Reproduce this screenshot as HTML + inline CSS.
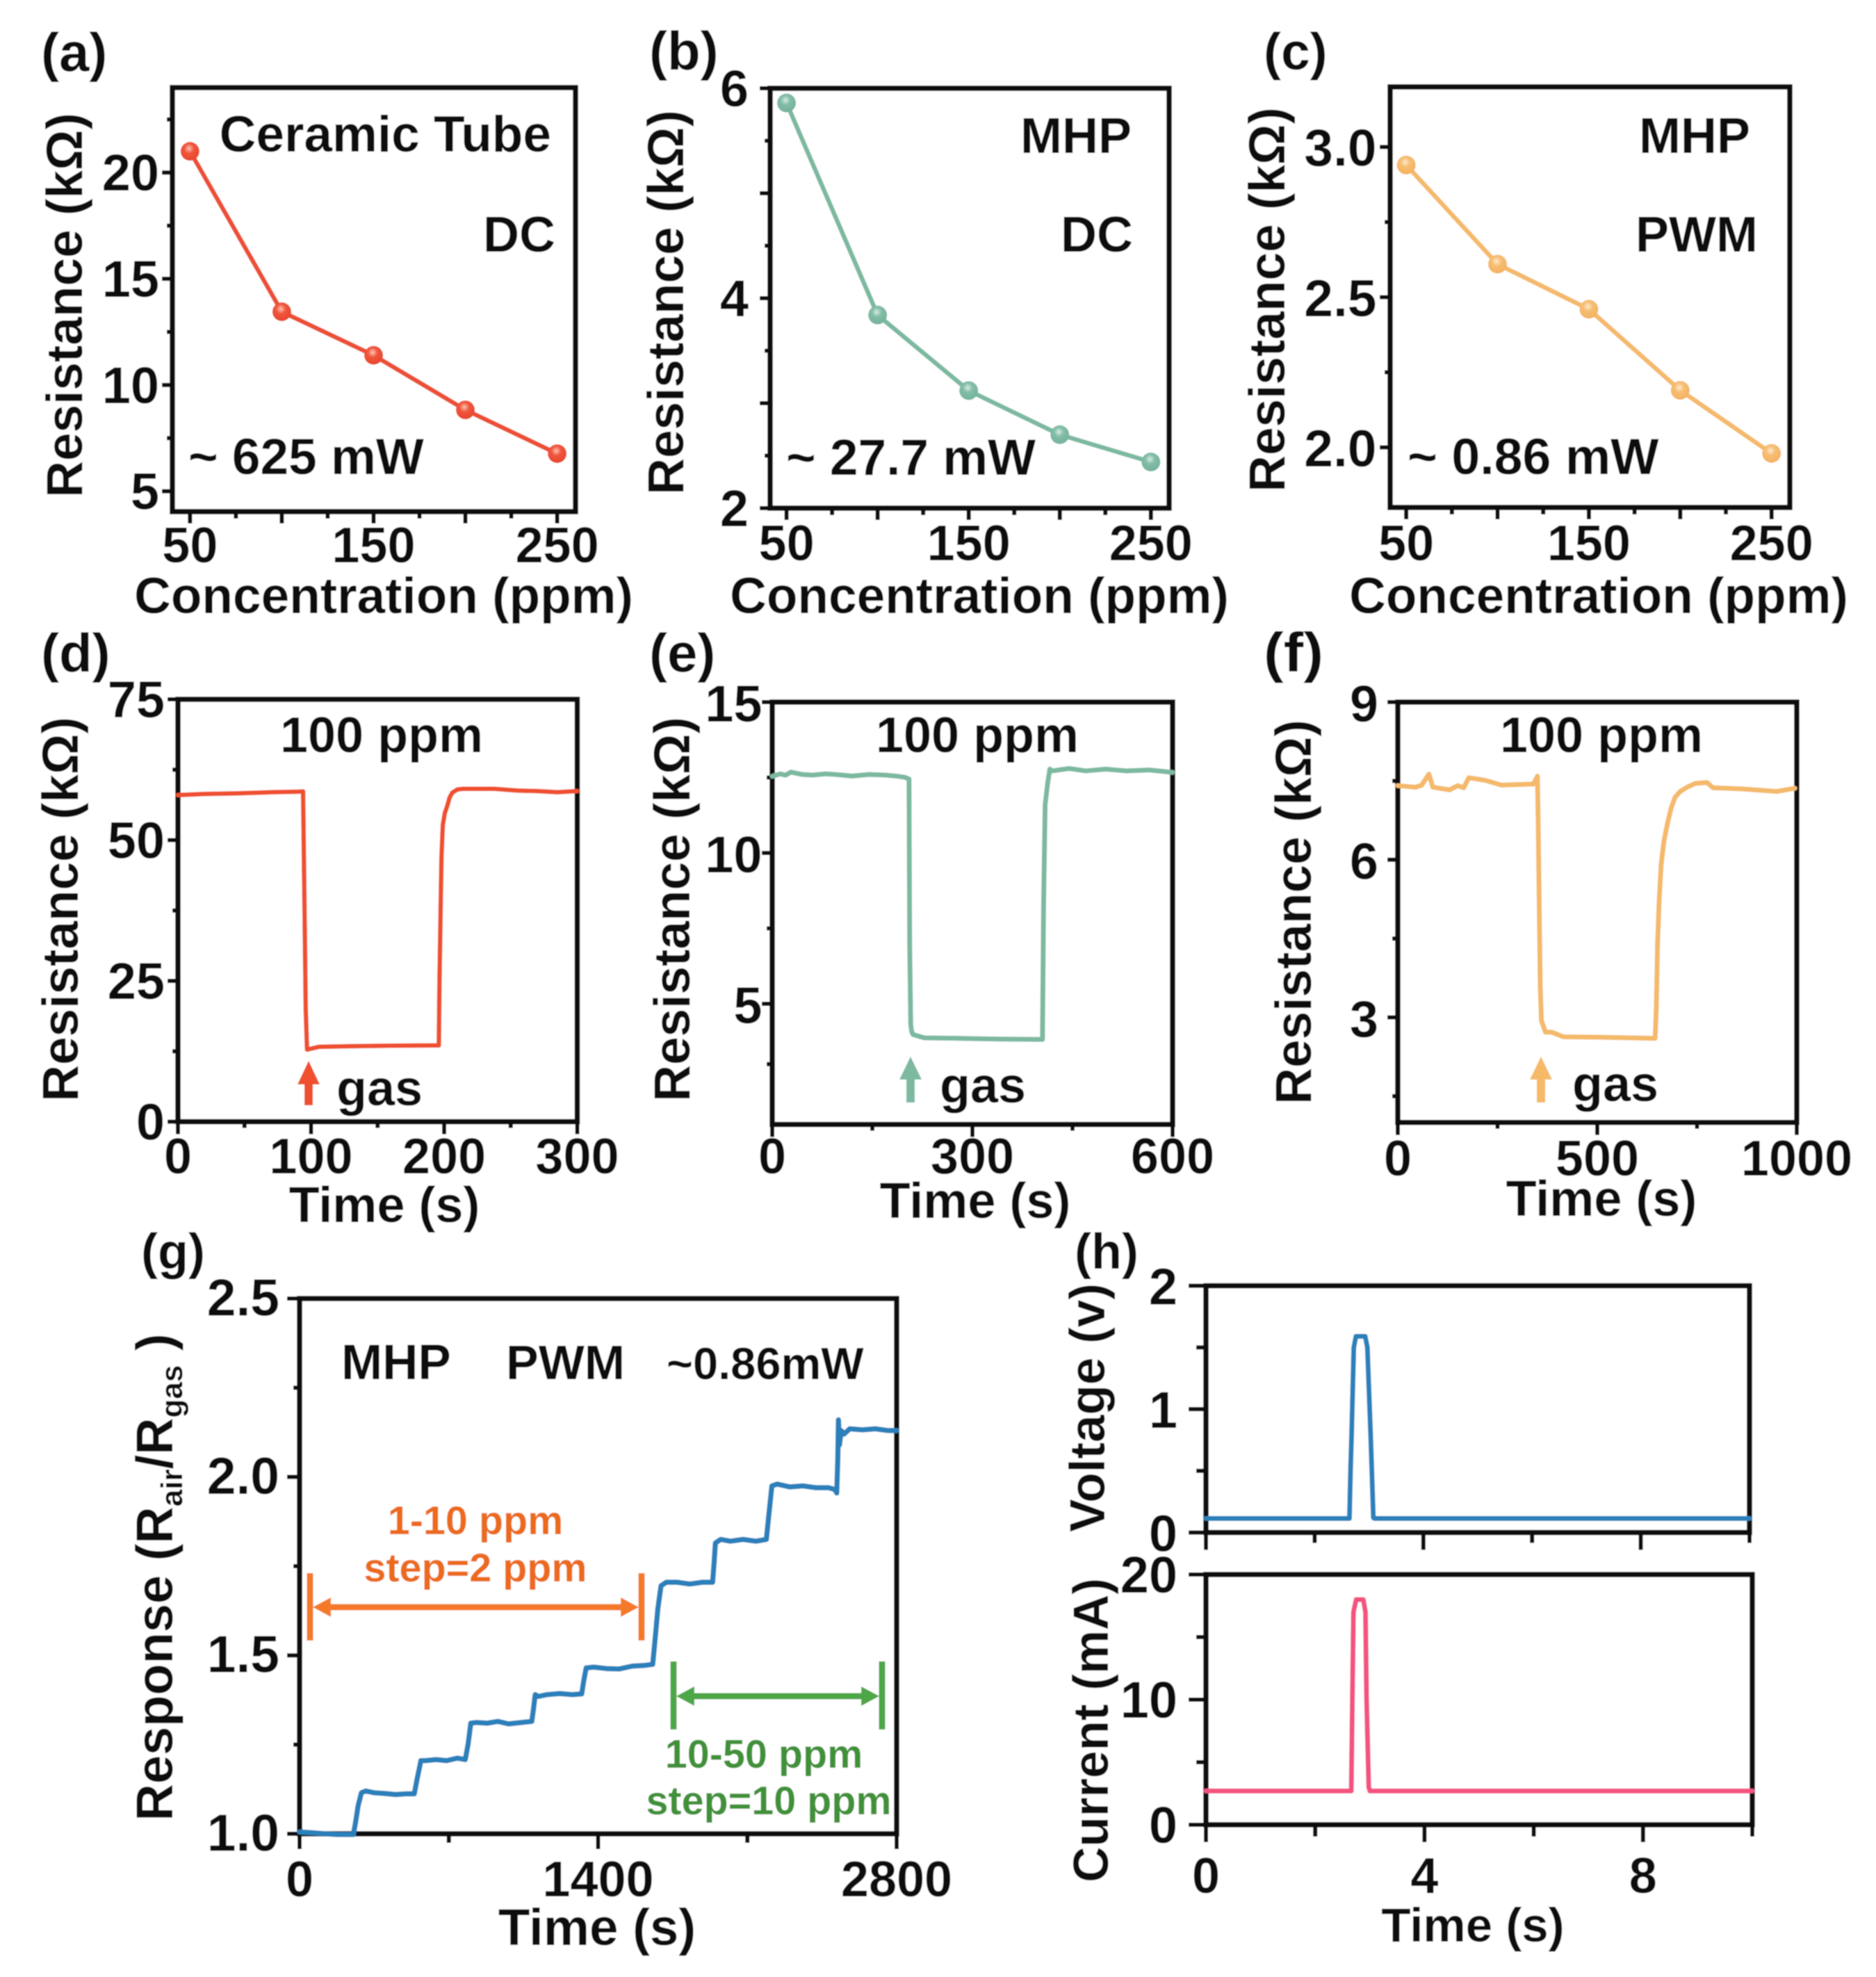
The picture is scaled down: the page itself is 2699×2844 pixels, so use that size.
<!DOCTYPE html>
<html lang="en">
<head>
<meta charset="utf-8">
<title>Gas sensor characterization panels</title>
<style>
html,body{margin:0;padding:0;background:#fff;width:2699px;height:2844px;overflow:hidden}
svg{display:block}
text{font-family:"Liberation Sans",Arial,sans-serif;font-weight:bold;fill:#0c0c0c}
</style>
</head>
<body>
<svg id="figure" xmlns="http://www.w3.org/2000/svg" width="2699" height="2844" viewBox="0 0 2699 2844">
<defs>
<filter id="soft" x="0" y="0" width="100%" height="100%"><feGaussianBlur stdDeviation="0.9"/></filter>
<radialGradient id="ball-red" cx="0.45" cy="0.35" r="0.65"><stop offset="0" stop-color="#ffc4b4"/><stop offset="0.4" stop-color="#f0553c"/><stop offset="1" stop-color="#e8452c"/></radialGradient>
<radialGradient id="ball-green" cx="0.45" cy="0.35" r="0.65"><stop offset="0" stop-color="#d5ece2"/><stop offset="0.4" stop-color="#82bca6"/><stop offset="1" stop-color="#74b39b"/></radialGradient>
<radialGradient id="ball-orange" cx="0.45" cy="0.35" r="0.65"><stop offset="0" stop-color="#fdeacc"/><stop offset="0.4" stop-color="#f6bd72"/><stop offset="1" stop-color="#f3b25f"/></radialGradient>
</defs>
<g id="root" filter="url(#soft)">
<rect x="0" y="0" width="2699" height="2844" fill="#fff"/>

<text x="59" y="102" font-size="78">(a)</text>
<text x="934" y="100" font-size="78">(b)</text>
<text x="1818" y="100" font-size="75">(c)</text>
<text x="59" y="966" font-size="78">(d)</text>
<text x="934" y="966" font-size="78">(e)</text>
<text x="1818" y="966" font-size="80" textLength="86" lengthAdjust="spacingAndGlyphs">(f)</text>
<text x="203" y="1825" font-size="72">(g)</text>
<text x="1546" y="1825" font-size="72">(h)</text>

<text transform="translate(118,439) rotate(-90)" text-anchor="middle" font-size="73">Resistance (kΩ)</text>
<text transform="translate(983,435) rotate(-90)" text-anchor="middle" font-size="73">Resistance (kΩ)</text>
<text transform="translate(1848,431) rotate(-90)" text-anchor="middle" font-size="73">Resistance (kΩ)</text>
<text transform="translate(112,1308) rotate(-90)" text-anchor="middle" font-size="73">Resistance (kΩ)</text>
<text transform="translate(992,1308) rotate(-90)" text-anchor="middle" font-size="73">Resistance (kΩ)</text>
<text transform="translate(1886,1312) rotate(-90)" text-anchor="middle" font-size="73">Resistance (kΩ)</text>
<text transform="translate(248,2269) rotate(-90)" text-anchor="middle" font-size="74">Response (R<tspan font-size="44" dy="14">air</tspan><tspan dy="-14">/R</tspan><tspan font-size="44" dy="14">gas</tspan><tspan dy="-14"> )</tspan></text>
<text transform="translate(1589,2025) rotate(-90)" text-anchor="middle" font-size="71">Voltage (v)</text>
<text transform="translate(1594,2489) rotate(-90)" text-anchor="middle" font-size="71">Current (mA)</text>

<text x="552" y="882" text-anchor="middle" font-size="73">Concentration (ppm)</text>
<text x="1409" y="882" text-anchor="middle" font-size="73">Concentration (ppm)</text>
<text x="2300" y="882" text-anchor="middle" font-size="73">Concentration (ppm)</text>
<text x="553" y="1758" text-anchor="middle" font-size="72">Time (s)</text>
<text x="1403" y="1752" text-anchor="middle" font-size="72">Time (s)</text>
<text x="2304" y="1749" text-anchor="middle" font-size="72">Time (s)</text>
<text x="859" y="2798" text-anchor="middle" font-size="74.5">Time (s)</text>
<text x="2119" y="2793" text-anchor="middle" font-size="69">Time (s)</text>

<g id="marks"></g>

<text x="793" y="218" text-anchor="end" font-size="73">Ceramic Tube</text>
<text x="799" y="362" text-anchor="end" font-size="72">DC</text>
<text x="271" y="682" font-size="73">~ 625 mW</text>
<text x="1628" y="220" text-anchor="end" font-size="72">MHP</text>
<text x="1630" y="362" text-anchor="end" font-size="72">DC</text>
<text x="1131" y="683" font-size="73">~ 27.7 mW</text>
<text x="2518" y="220" text-anchor="end" font-size="72">MHP</text>
<text x="2529" y="362" text-anchor="end" font-size="72">PWM</text>
<text x="2025" y="682" font-size="73.5">~ 0.86 mW</text>

<text x="549" y="1082" text-anchor="middle" font-size="72">100 ppm</text>
<text x="1406" y="1082" text-anchor="middle" font-size="72">100 ppm</text>
<text x="2304" y="1082" text-anchor="middle" font-size="72">100 ppm</text>
<text x="484" y="1590" font-size="72">gas</text>
<text x="1352" y="1586" font-size="72">gas</text>
<text x="2262" y="1584" font-size="72">gas</text>
<polygon points="444,1526 460,1560 450,1560 450,1590 438,1590 438,1560 428,1560" fill="#ef4f2f"/>
<polygon points="1310,1520 1326,1553 1316,1553 1316,1586 1304,1586 1304,1553 1294,1553" fill="#7cb9a0"/>
<polygon points="2217,1520 2233,1553 2223,1553 2223,1586 2211,1586 2211,1553 2201,1553" fill="#f6b968"/>

<text x="491" y="1984" font-size="71">MHP</text>
<text x="728" y="1984" font-size="70">PWM</text>
<text x="959" y="1984" font-size="65">~0.86mW</text>

<text x="684" y="2207" text-anchor="middle" font-size="57.5" style="fill:#ec6a1e">1-10 ppm</text>
<text x="684" y="2275" text-anchor="middle" font-size="57.5" style="fill:#ec6a1e">step=2 ppm</text>
<g stroke="#f47a2a" fill="#f47a2a">
<line x1="446" y1="2263" x2="446" y2="2360" stroke-width="9"/>
<line x1="923" y1="2263" x2="923" y2="2360" stroke-width="9"/>
<line x1="468" y1="2312" x2="901" y2="2312" stroke-width="9"/>
<polygon points="450,2312 476,2298 476,2326" stroke="none"/>
<polygon points="919,2312 893,2298 893,2326" stroke="none"/>
</g>
<text x="1099" y="2543" text-anchor="middle" font-size="57.5" style="fill:#3f9139">10-50 ppm</text>
<text x="1106" y="2610" text-anchor="middle" font-size="57.5" style="fill:#3f9139">step=10 ppm</text>
<g stroke="#4ea747" fill="#4ea747">
<line x1="969" y1="2390" x2="969" y2="2488" stroke-width="9"/>
<line x1="1269" y1="2390" x2="1269" y2="2488" stroke-width="9"/>
<line x1="990" y1="2440" x2="1248" y2="2440" stroke-width="9"/>
<polygon points="973,2440 999,2426 999,2454" stroke="none"/>
<polygon points="1265,2440 1239,2426 1239,2454" stroke="none"/>
</g>
</g>
</svg>
<script>
// Panel (a)
const aConcentration = [50, 100, 150, 200, 250];
const aResistance = [21.0, 13.45, 11.4, 8.83, 6.77];
const aXTicks = [50, 100, 150, 200, 250];
const aXMinor = [75, 125, 175, 225];
const aXLabels = [50, 150, 250];
const aYTicks = [5, 10, 15, 20];
const aYMinor = [7.5, 12.5, 17.5, 22.5];
// Panel (b)
const bConcentration = [50, 100, 150, 200, 250];
const bResistance = [5.86, 3.84, 3.12, 2.70, 2.44];
const bXTicks = [50, 100, 150, 200, 250];
const bXMinor = [75, 125, 175, 225];
const bXLabels = [50, 150, 250];
const bYTicks = [2, 3, 4, 5, 6];
const bYMinor = [2.5, 3.5, 4.5, 5.5];
const bYLabels = [2, 4, 6];
// Panel (c)
const cConcentration = [50, 100, 150, 200, 250];
const cResistance = [2.94, 2.61, 2.46, 2.19, 1.98];
const cXTicks = [50, 100, 150, 200, 250];
const cXMinor = [75, 125, 175, 225];
const cXLabels = [50, 150, 250];
const cYTicks = [2.0, 2.5, 3.0];
const cYMinor = [2.25, 2.75];
// Panel (d)
const dTime = [0, 20, 45, 70, 90, 94, 95, 96, 97, 106, 130, 160, 190, 196, 196.5, 197.4, 198, 199, 200.5, 202.5, 204, 206, 210, 214, 238, 255, 270, 285, 300];
const dResistance = [58.0, 58.2, 58.3, 58.5, 58.6, 58.65, 40, 20, 12.8, 13.3, 13.4, 13.5, 13.55, 13.55, 25, 38.5, 47, 52.7, 54.8, 56.2, 57.5, 58.4, 59, 59.1, 59.1, 58.8, 58.7, 58.5, 58.7];
const dXTicks = [0, 100, 200, 300];
const dXMinor = [50, 150, 250];
const dYTicks = [0, 25, 50, 75];
const dYMinor = [12.5, 37.5, 62.5];
// Panel (e)
const eTime = [0, 12, 20, 28, 45, 60, 80, 95, 120, 145, 170, 185, 198, 205, 206, 207.6, 209, 211, 228, 270, 340, 405, 406.7, 409, 412.7, 416, 420, 445, 470, 500, 530, 565, 600];
const eResistance = [12.54, 12.62, 12.58, 12.68, 12.6, 12.58, 12.62, 12.6, 12.55, 12.6, 12.58, 12.55, 12.51, 12.45, 6.95, 4.3, 4.08, 3.98, 3.87, 3.86, 3.83, 3.82, 8.28, 11.6, 12.3, 12.78, 12.72, 12.8, 12.72, 12.78, 12.72, 12.75, 12.67];
const eXTicks = [0, 300, 600];
const eXMinor = [150, 450];
const eYTicks = [5, 10, 15];
const eYMinor = [3, 7.5, 12.5];
// Panel (f)
const fTime = [0, 45, 60, 78, 88, 130, 150, 165, 178, 220, 260, 340, 350, 352, 357, 360, 370, 385, 415, 520, 645, 648, 651, 655, 660, 667, 675, 685, 695, 708, 725, 745, 775, 790, 860, 950, 995];
const fResistance = [7.41, 7.38, 7.42, 7.63, 7.38, 7.33, 7.41, 7.37, 7.56, 7.51, 7.42, 7.44, 7.59, 6.66, 3.62, 2.94, 2.72, 2.72, 2.63, 2.62, 2.6, 3.2, 4.38, 5.2, 5.9, 6.35, 6.66, 6.98, 7.19, 7.3, 7.38, 7.45, 7.47, 7.37, 7.35, 7.3, 7.36];
const fXTicks = [0, 500, 1000];
const fXMinor = [250, 750];
const fYTicks = [3, 6, 9];
const fYMinor = [1.5, 4.5, 7.5];
// Panel (g)
const gTime = [0, 60, 120, 180, 252, 262, 275, 290, 310, 350, 400, 450, 500, 538, 550, 569, 590, 640, 690, 740, 777, 790, 803, 830, 880, 930, 980, 1040, 1089, 1097, 1105, 1120, 1160, 1220, 1280, 1323, 1333, 1344, 1380, 1440, 1500, 1560, 1620, 1656, 1668, 1680, 1695, 1720, 1770, 1830, 1890, 1937, 1944, 1950, 1975, 2020, 2080, 2140, 2189, 2200, 2215, 2240, 2300, 2360, 2420, 2480, 2510, 2519, 2524, 2527, 2532, 2540, 2553, 2580, 2640, 2700, 2760, 2800];
const gResponse = [1.005, 1.003, 1.0, 0.998, 0.998, 1.03, 1.08, 1.115, 1.12, 1.115, 1.113, 1.11, 1.112, 1.112, 1.15, 1.205, 1.205, 1.208, 1.205, 1.212, 1.208, 1.25, 1.31, 1.312, 1.31, 1.315, 1.308, 1.312, 1.315, 1.35, 1.39, 1.385, 1.39, 1.393, 1.39, 1.392, 1.43, 1.465, 1.467, 1.463, 1.462, 1.47, 1.472, 1.475, 1.55, 1.63, 1.695, 1.705, 1.705, 1.7, 1.705, 1.705, 1.76, 1.815, 1.825, 1.82, 1.825, 1.82, 1.825, 1.89, 1.975, 1.98, 1.972, 1.975, 1.97, 1.97, 1.965, 1.955, 2.05, 2.16, 2.09, 2.13, 2.12, 2.135, 2.132, 2.135, 2.13, 2.13];
const gXTicks = [0, 1400, 2800];
const gXMinor = [700, 2100];
const gYTicks = [1.0, 1.5, 2.0, 2.5];
const gYMinor = [1.25, 1.75, 2.25];
// Panel (h)
const hVoltageTime = [0, 2.64, 2.66, 2.68, 2.72, 2.76, 2.93, 2.97, 3.03, 3.08, 3.1, 10];
const hVoltage = [0.114, 0.114, 0.5, 0.8, 1.5, 1.59, 1.59, 1.5, 0.79, 0.12, 0.114, 0.114];
const hCurrentTime = [0, 2.66, 2.68, 2.70, 2.75, 2.88, 2.92, 2.94, 2.98, 3.0, 10];
const hCurrent = [2.7, 2.7, 10, 17, 18, 18, 17, 10, 3, 2.7, 2.7];
const hXTicks = [0, 4, 8];
const hXMinor = [2, 6, 10];
const hVoltageYTicks = [0, 1, 2];
const hVoltageYMinor = [0.5, 1.5];
const hCurrentYTicks = [0, 10, 20];
const hCurrentYMinor = [5, 15];

const SVGNS = 'http://www.w3.org/2000/svg';
const marks = document.getElementById('marks');
function make(tag, props, parent) {
  const el = document.createElementNS(SVGNS, tag);
  for (const k in props) el.setAttribute(k, props[k]);
  parent.appendChild(el);
  return el;
}
function linear(d0, d1, r0, r1) {
  return function (v) { return r0 + (v - d0) / (d1 - d0) * (r1 - r0); };
}
function drawAxes(p) {
  const g = make('g', {}, marks);
  
  
  const sx = linear(p.xDomain[0], p.xDomain[1], p.left, p.right);
  const sy = linear(p.yDomain[0], p.yDomain[1], p.bottom, p.top);
  const box = make('rect', { x: p.left, y: p.top, width: p.right - p.left, height: p.bottom - p.top, fill: 'none', stroke: '#0c0c0c', 'stroke-width': 7.5 }, g);
  
  
  const xfs = p.xFont || 72;
  const yfs = p.yFont || 74;
  const decimals = p.decimals || 0;
  p.xTicks.forEach(function (v) {
    const t = make('line', { x1: sx(v), x2: sx(v), y1: p.bottom, y2: p.bottom + p.xMajor, stroke: '#0c0c0c', 'stroke-width': 6 }, g);
    
    
  });
  p.xMinor.forEach(function (v) {
    const t = make('line', { x1: sx(v), x2: sx(v), y1: p.bottom, y2: p.bottom + p.xMinorLen, stroke: '#0c0c0c', 'stroke-width': 6 }, g);
    
    
  });
  p.yTicks.forEach(function (v) {
    const t = make('line', { x1: p.left - p.yMajor, x2: p.left, y1: sy(v), y2: sy(v), stroke: '#0c0c0c', 'stroke-width': 6 }, g);
    
    
  });
  p.yMinor.forEach(function (v) {
    const t = make('line', { x1: p.left - p.yMinorLen, x2: p.left, y1: sy(v), y2: sy(v), stroke: '#0c0c0c', 'stroke-width': 6 }, g);
    
    
  });
  (p.xLabels || []).forEach(function (v) {
    const t = make('text', { x: sx(v), y: p.xLabelBase, 'text-anchor': 'middle', 'font-size': xfs }, g);
    
    
    t.textContent = String(v);
  });
  (p.yLabels || p.yTicks).forEach(function (v) {
    const t = make('text', { x: p.left - p.yGap, y: sy(v) + yfs * 0.35 + (p.yDy || 0), 'text-anchor': 'end', 'font-size': yfs }, g);
    
    
    t.textContent = v.toFixed(decimals);
  });
  return { g: g, sx: sx, sy: sy };
}
function drawLine(ax, xs, ys, color, width, name) {
  const d = xs.map(function (x, i) { return ax.sx(x).toFixed(2) + ',' + ax.sy(ys[i]).toFixed(2); }).join(' ');
  const l = make('polyline', { points: d, fill: 'none', stroke: color, 'stroke-width': width, 'stroke-linejoin': 'round', 'stroke-linecap': 'round' }, ax.g);
  
  
}
function drawPoints(ax, xs, ys, gradient, name) {
  xs.forEach(function (x, i) {
    const c = make('circle', { cx: ax.sx(x), cy: ax.sy(ys[i]), r: 13.5, fill: 'url(#' + gradient + ')' }, ax.g);
    
    
  });
}

const axA = drawAxes({ id: 'a', left: 248, right: 828, top: 126, bottom: 736, xDomain: [40.4, 260], yDomain: [4.04, 24], xTicks: aXTicks, xMinor: aXMinor, xLabels: aXLabels, yTicks: aYTicks, yMinor: aYMinor, xMajor: 17, xMinorLen: 10, yMajor: 15, yMinorLen: 8, yGap: 19, xLabelBase: 809 });
drawLine(axA, aConcentration, aResistance, '#ec4f35', 6.5, 'resistance-line-a');
drawPoints(axA, aConcentration, aResistance, 'ball-red', 'resistance-point-a');

const axB = drawAxes({ id: 'b', left: 1108, right: 1682, top: 127, bottom: 731, xDomain: [41, 260], yDomain: [2, 6], xTicks: bXTicks, xMinor: bXMinor, xLabels: bXLabels, yTicks: bYTicks, yMinor: bYMinor, yLabels: bYLabels, xMajor: 17, xMinorLen: 10, yMajor: 15, yMinorLen: 8, yGap: 31, xLabelBase: 806, yDy: 0 });
drawLine(axB, bConcentration, bResistance, '#7cb9a0', 6.5, 'resistance-line-b');
drawPoints(axB, bConcentration, bResistance, 'ball-green', 'resistance-point-b');

const axC = drawAxes({ id: 'c', left: 2000, right: 2575, top: 125, bottom: 730, xDomain: [41.2, 260], yDomain: [1.8, 3.2], xTicks: cXTicks, xMinor: cXMinor, xLabels: cXLabels, yTicks: cYTicks, yMinor: cYMinor, xMajor: 17, xMinorLen: 10, yMajor: 15, yMinorLen: 8, yGap: 19.5, xLabelBase: 806, decimals: 1, yDy: 1, yFont: 75 });
drawLine(axC, cConcentration, cResistance, '#f4b96b', 6.5, 'resistance-line-c');
drawPoints(axC, cConcentration, cResistance, 'ball-orange', 'resistance-point-c');

const axD = drawAxes({ id: 'd', left: 256, right: 830.5, top: 1006, bottom: 1613.6, xDomain: [0, 300], yDomain: [0, 75], xTicks: dXTicks, xMinor: dXMinor, xLabels: dXTicks, yTicks: dYTicks, yMinor: dYMinor, xMajor: 18, xMinorLen: 9, yMajor: 15, yMinorLen: 8, yGap: 19, xLabelBase: 1688, yDy: 0 });
drawLine(axD, dTime, dResistance, '#ef4f2f', 6.5, 'resistance-trace-d');

const axE = drawAxes({ id: 'e', left: 1111, right: 1687, top: 1010, bottom: 1617.6, xDomain: [0, 600], yDomain: [1, 15], xTicks: eXTicks, xMinor: eXMinor, xLabels: eXTicks, yTicks: eYTicks, yMinor: eYMinor, xMajor: 18, xMinorLen: 9, yMajor: 15, yMinorLen: 8, yGap: 14.5, xLabelBase: 1688, yDy: 2 });
drawLine(axE, eTime, eResistance, '#7cb9a0', 7, 'resistance-trace-e');

const axF = drawAxes({ id: 'f', left: 2011, right: 2585, top: 1010, bottom: 1614.7, xDomain: [0, 1000], yDomain: [1, 9], xTicks: fXTicks, xMinor: fXMinor, xLabels: fXTicks, yTicks: fYTicks, yMinor: fYMinor, xMajor: 18, xMinorLen: 9, yMajor: 15, yMinorLen: 8, yGap: 28, xLabelBase: 1691, yDy: 2 });
drawLine(axF, fTime, fResistance, '#f4b96b', 7, 'resistance-trace-f');

const axG = drawAxes({ id: 'g', left: 431, right: 1290, top: 1868, bottom: 2638, xDomain: [0, 2800], yDomain: [1, 2.5], xTicks: gXTicks, xMinor: gXMinor, xLabels: gXTicks, yTicks: gYTicks, yMinor: gYMinor, xMajor: 22, xMinorLen: 13, yMajor: 18, yMinorLen: 9, yGap: 29, xLabelBase: 2728, decimals: 1, yFont: 75, yDy: -2 });
drawLine(axG, gTime, gResponse, '#2a80bb', 7.5, 'response-trace-g');

const axV = drawAxes({ id: 'voltage', left: 1735, right: 2517, top: 1849.6, bottom: 2204.6, xDomain: [0, 10], yDomain: [0, 2], xTicks: hXTicks, xMinor: hXMinor, yTicks: hVoltageYTicks, yMinor: hVoltageYMinor, xMajor: 25, xMinorLen: 15, yMajor: 25, yMinorLen: 14, yGap: 41, yDy: 1 });
drawLine(axV, hVoltageTime, hVoltage, '#2a80bb', 7, 'voltage-trace');

const axI = drawAxes({ id: 'current', left: 1735, right: 2521, top: 2265, bottom: 2625, xDomain: [0, 10], yDomain: [0, 20], xTicks: hXTicks, xMinor: hXMinor, xLabels: hXTicks, yTicks: hCurrentYTicks, yMinor: hCurrentYMinor, xMajor: 25, xMinorLen: 17, yMajor: 25, yMinorLen: 14, yGap: 41, xLabelBase: 2723 });
drawLine(axI, hCurrentTime, hCurrent, '#f4527f', 7, 'current-trace');
</script>
</body>
</html>
